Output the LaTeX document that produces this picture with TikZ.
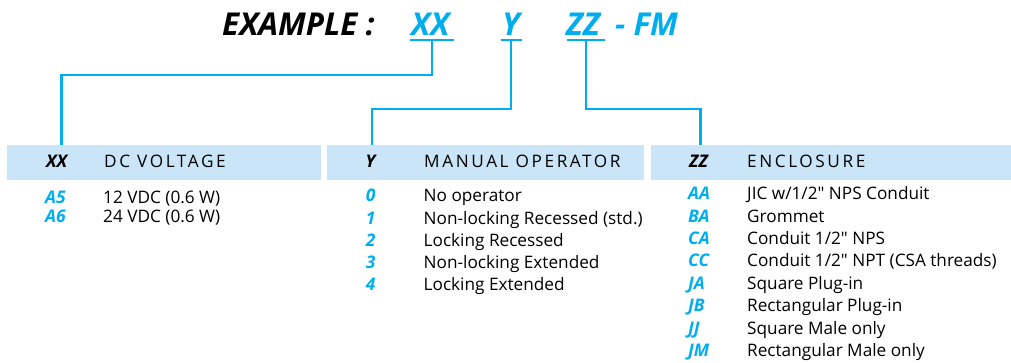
\documentclass[tikz,border=0pt]{standalone}
\usepackage{fontspec}
\setmainfont{Open Sans}[Ligatures=TeXOff]
\newfontfamily\hdfont{Open Sans}[LetterSpace=15]
\definecolor{cyanb}{HTML}{00AEEF}
\definecolor{hdrfill}{HTML}{C9E5F7}
\tikzset{
  conn/.style={draw=cyanb, line width=2.2pt},
  hdrbox/.style={fill=hdrfill, draw=none},
  txt/.style={inner sep=0pt, anchor=base west, font=\fontsize{17.2}{19}\selectfont},
  code/.style={inner sep=0pt, anchor=base west, text=cyanb, font=\fontsize{17.4}{19}\selectfont\bfseries\itshape},
  ccode/.style={code, anchor=base},
  hcode/.style={inner sep=0pt, anchor=base west, text=black, font=\fontsize{17.4}{19}\selectfont\bfseries\itshape},
  htitle/.style={inner sep=0pt, anchor=base west, font=\fontsize{17.2}{19}\hdfont},
  title/.style={inner sep=0pt, anchor=base west, font=\fontsize{31.5}{34}\selectfont\bfseries\itshape},
}
\begin{document}
\begin{tikzpicture}[x=1pt,y=-1pt]
\useasboundingbox (0,0) rectangle (1011,362);
% header bars
\path[hdrbox] (7,145) rectangle (321,180);
\path[hdrbox] (327,145) rectangle (644,180);
\path[hdrbox] (651,145) rectangle (1011,180);
\coordinate (h1top) at (61.5,145);
\coordinate (h2top) at (372,145);
\coordinate (h3top) at (700.5,145);
% title
\node[title] (ex) at (222,35) {EXAMPLE :};
\node[title, text=cyanb] (xx) at (411,35) {XX};
\node[title, text=cyanb] (yy) at (502,35) {Y};
\node[title, text=cyanb] (zz) at (566,35) {ZZ};
\node[title, text=cyanb] (fm) at (615,35) {- FM};
% underlines
\coordinate (xxu) at (432,40);
\coordinate (yyu) at (511,40);
\coordinate (zzu) at (586,40);
\draw[conn] (410,40) -- (454,40);
\draw[conn] (500.5,40) -- (521.5,40);
\draw[conn] (567,40) -- (605,40);
% connectors
\draw[conn] (xxu) -- (xxu |- 0,75) -| (h1top);
\draw[conn] (yyu) -- (yyu |- 0,108.7) -| (h2top);
\draw[conn] (zzu) -- (zzu |- 0,108.7) -| (h3top);
% headers
\node[hcode] (hx) at (46,167) {XX};
\node[htitle] (ht1) at (104,167) {DC VOLTAGE};
\node[hcode, anchor=base] (hy) at (370.5,167) {Y};
\node[htitle] (ht2) at (424,167) {MANUAL OPERATOR};
\node[hcode] (hz) at (689,167) {ZZ};
\node[htitle] (ht3) at (747,167) {ENCLOSURE};
% column 1
\node[code] (a5) at (45,203) {A5};
\node[txt] (a5d) at (103,203) {12 VDC (0.6 W)};
\node[code] (a6) at (45,222.5) {A6};
\node[txt] (a6d) at (103,222.5) {24 VDC (0.6 W)};
% column 2
\node[ccode] (m0) at (370.7,201.7) {0};
\node[txt] (m0d) at (423.5,201.7) {No operator};
\node[ccode] (m1) at (370.7,224) {1};
\node[txt] (m1d) at (423.5,224) {Non-locking Recessed (std.)};
\node[ccode] (m2) at (370.7,246.3) {2};
\node[txt] (m2d) at (423.5,246.3) {Locking Recessed};
\node[ccode] (m3) at (370.7,268.6) {3};
\node[txt] (m3d) at (423.5,268.6) {Non-locking Extended};
\node[ccode] (m4) at (370.7,290.9) {4};
\node[txt] (m4d) at (423.5,290.9) {Locking Extended};
% column 3
\node[code] (eaa) at (688,199.5) {AA};
\node[txt] (eaad) at (747,199.5) {JIC w/1/2" NPS Conduit};
\node[code] (eba) at (688,222) {BA};
\node[txt] (ebad) at (747,222) {Grommet};
\node[code] (eca) at (688,244.4) {CA};
\node[txt] (ecad) at (747,244.4) {Conduit 1/2" NPS};
\node[code] (ecc) at (688,266.9) {CC};
\node[txt] (eccd) at (747,266.9) {Conduit 1/2" NPT (CSA threads)};
\node[code] (eja) at (688,289.3) {JA};
\node[txt] (ejad) at (747,289.3) {Square Plug-in};
\node[code] (ejb) at (688,311.8) {JB};
\node[txt] (ejbd) at (747,311.8) {Rectangular Plug-in};
\node[code] (ejj) at (688,334.2) {JJ};
\node[txt] (ejjd) at (747,334.2) {Square Male only};
\node[code] (ejm) at (688,356.7) {JM};
\node[txt] (ejmd) at (747,356.7) {Rectangular Male only};
\end{tikzpicture}
\end{document}
